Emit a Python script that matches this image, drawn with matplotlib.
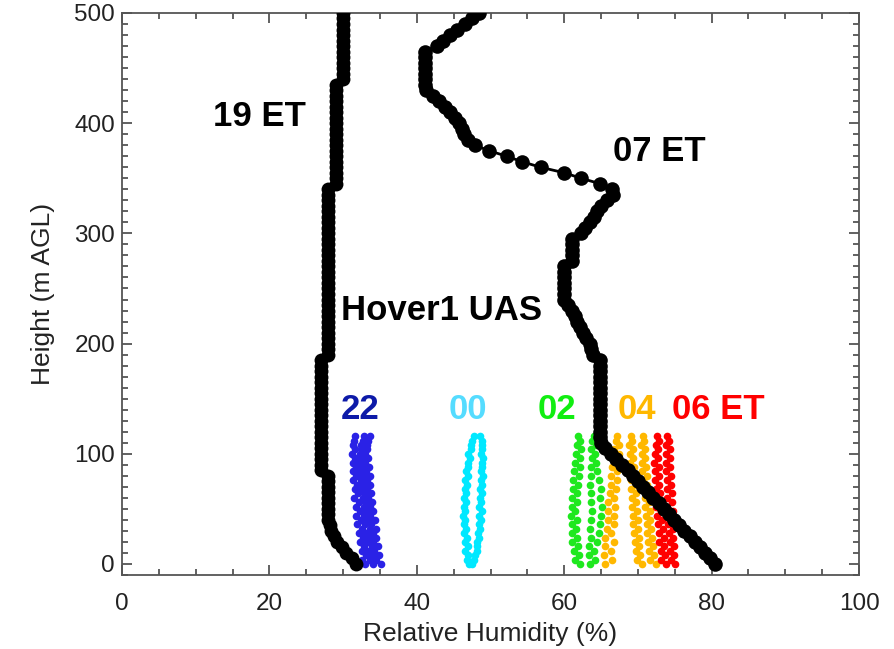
import numpy as np
import matplotlib
matplotlib.use("Agg")
import matplotlib.pyplot as plt
from matplotlib.ticker import MultipleLocator

plt.rcParams['font.family'] = ['Liberation Sans', 'DejaVu Sans']

# perfiles de radiosonda (cada 5 m)
altura_sonda = np.arange(0, 501, 5)

hr_19et = [31.8, 31.2, 30.4, 29.8, 29.2, 28.7, 28.4, 28.2, 28.0,
           28.0, 28.0, 28.0, 28.0, 28.0, 28.0, 28.0, 28.0,
           27.0, 27.0, 27.0, 27.0, 27.0, 27.0, 27.0, 27.0, 27.0, 27.0, 27.0,
           27.0, 27.0, 27.0, 27.0, 27.0, 27.0, 27.0, 27.0, 27.0, 27.0,
           28.0, 28.0, 28.0, 28.0, 28.0, 28.0, 28.0, 28.0, 28.0, 28.0, 28.0,
           28.0, 28.0, 28.0, 28.0, 28.0, 28.0, 28.0, 28.0, 28.0, 28.0, 28.0,
           28.0, 28.0, 28.0, 28.0, 28.0, 28.0, 28.0, 28.0, 28.0,
           29.0, 29.0, 29.0, 29.0, 29.0, 29.0, 29.0, 29.0, 29.0, 29.0,
           29.0, 29.0, 29.0, 29.0, 29.0, 29.0, 29.0, 29.0, 29.0,
           30.0, 30.0, 30.0, 30.0, 30.0, 30.0, 30.0, 30.0, 30.0, 30.0,
           30.0, 30.0, 30.0]

hr_07et = [80.5, 79.8, 79.1, 78.4, 77.7, 77.0, 76.3, 75.6, 74.9, 74.2,
           73.5, 72.8, 72.1, 71.4, 70.7, 70.0, 69.3, 68.6, 67.9, 67.0,
           66.3, 65.6, 65.0, 64.8,
           64.8, 64.8, 64.8, 64.8, 64.8, 64.8, 64.8, 64.8, 64.8, 64.8,
           64.8, 64.8, 64.8, 64.8,
           63.9, 63.7, 63.5, 63.0, 62.6, 62.2, 61.8, 61.5, 61.0, 60.5,
           60.0, 60.0, 60.0, 60.0, 60.0, 60.0, 60.0,
           61.1, 61.1, 61.1, 61.1, 61.1,
           62.3, 62.8, 63.5, 64.0, 64.5, 65.0, 65.8, 66.6, 66.5,
           64.9, 62.3, 60.0, 56.8, 54.3, 52.2, 49.8, 47.9, 47.0, 46.4,
           46.1, 45.7, 45.2, 44.5, 43.8, 43.0, 42.2, 41.2,
           41.1, 41.1, 41.1, 41.1, 41.1, 41.1, 41.1,
           42.7, 43.6, 44.5, 45.5, 46.5, 47.5, 48.4]

# vuelos Hover1 UAS (cada 4 m, subida y bajada)
altura_uas = np.arange(0, 118, 4)

hr_22a = [33.0, 32.6, 33.1, 32.5, 32.9, 32.3, 32.7, 32.2, 32.6, 31.9,
          32.4, 31.8, 32.3, 31.7, 32.2, 31.5, 32.0, 31.6, 31.9, 31.4,
          31.8, 31.3, 31.7, 31.4, 31.6, 31.2, 31.6, 31.3, 31.5, 31.6]
hr_22b = [34.1, 33.6, 34.0, 33.4, 33.9, 33.3, 33.7, 33.1, 33.6, 33.0,
          33.4, 32.9, 33.3, 32.8, 33.1, 32.7, 33.0, 32.5, 32.9, 32.4,
          32.7, 32.3, 32.6, 32.2, 32.5, 32.3, 32.6, 32.4, 32.7, 32.8]
hr_22c = [35.1, 34.5, 34.9, 34.2, 34.8, 34.1, 34.5, 34.0, 34.4, 33.8,
          34.3, 33.7, 34.1, 33.6, 33.9, 33.4, 33.8, 33.3, 33.7, 33.2,
          33.6, 33.1, 33.5, 33.0, 33.4, 33.0, 33.3, 33.2, 33.4, 33.6]

hr_00a = [47.1, 46.8, 47.0, 46.6, 46.9, 46.5, 46.8, 46.4, 46.7, 46.4,
          46.6, 46.3, 46.6, 46.4, 46.7, 46.4, 46.7, 46.5, 46.8, 46.6,
          46.9, 46.7, 47.0, 46.9, 47.2, 47.0, 47.3, 47.3, 47.5, 47.7]
hr_00b = [47.5, 47.8, 47.9, 48.1, 48.2, 48.1, 48.5, 48.3, 48.6, 48.4,
          48.7, 48.5, 48.8, 48.5, 48.7, 48.6, 48.9, 48.6, 48.8, 48.7,
          49.0, 48.7, 48.9, 48.8, 49.0, 48.7, 48.9, 48.8, 48.9, 48.6]

hr_02a = [62.2, 61.5, 62.0, 61.3, 61.9, 61.1, 61.7, 61.0, 61.6, 61.1,
          61.8, 60.9, 61.5, 61.0, 61.7, 61.1, 61.8, 61.2, 61.9, 61.2,
          62.0, 61.3, 62.1, 61.5, 62.2, 61.6, 62.3, 61.7, 62.1, 61.9]
hr_02b = [63.5, 64.2, 63.4, 64.1, 63.3, 64.5, 63.6, 64.7, 63.5, 64.9,
          63.7, 65.0, 63.8, 65.1, 63.6, 64.9, 63.7, 65.0, 63.5, 64.7,
          63.7, 64.5, 63.6, 64.3, 63.8, 64.2, 63.7, 64.3, 63.8, 64.1]

hr_04a = [65.6, 66.5, 65.4, 66.3, 65.6, 66.7, 65.5, 66.4, 65.8, 66.8,
          65.9, 66.7, 66.0, 66.9, 66.0, 66.8, 66.2, 67.0, 66.3, 67.1,
          66.4, 67.2, 66.5, 67.3, 66.7, 67.4, 66.8, 67.4, 67.0, 67.2]
hr_04b = [70.5, 69.9, 70.3, 69.7, 70.2, 69.6, 70.1, 69.5, 70.0, 69.4,
          70.0, 69.3, 69.9, 69.2, 69.8, 69.2, 69.7, 69.1, 69.7, 69.0,
          69.6, 69.0, 69.5, 68.9, 69.4, 68.9, 69.3, 68.8, 69.2, 69.1]
hr_04c = [72.4, 71.7, 72.2, 71.5, 72.0, 71.4, 71.9, 71.3, 71.8, 71.2,
          71.7, 71.1, 71.6, 71.0, 71.5, 70.9, 71.4, 70.8, 71.3, 70.7,
          71.2, 70.6, 71.1, 70.5, 71.0, 70.5, 70.9, 70.4, 70.8, 70.7]

hr_06a = [73.8, 73.2, 73.7, 73.1, 73.6, 72.9, 73.5, 72.8, 73.4, 72.7,
          73.3, 72.6, 73.2, 72.5, 73.1, 72.4, 73.0, 72.4, 72.9, 72.3,
          72.8, 72.3, 72.8, 72.2, 72.7, 72.3, 72.7, 72.4, 72.8, 72.6]
hr_06b = [75.1, 74.5, 74.9, 74.4, 74.9, 74.3, 74.8, 74.2, 74.8, 74.1,
          74.7, 74.1, 74.7, 74.0, 74.6, 74.0, 74.6, 73.9, 74.5, 73.9,
          74.5, 73.8, 74.4, 73.8, 74.3, 73.8, 74.3, 73.8, 74.2, 74.0]

vuelos = [
    ([hr_22a, hr_22b, hr_22c], '#2a22e6', '22', '#0d1aa8', 32.3),
    ([hr_00a, hr_00b], '#00e8ff', '00', '#55dcff', 46.9),
    ([hr_02a, hr_02b], '#1ee81e', '02', '#11ee11', 59.0),
    ([hr_04a, hr_04b, hr_04c], '#ffb800', '04', '#ffb800', 69.9),
    ([hr_06a, hr_06b], '#ff0000', '06 ET', '#ff0000', 80.9),
]

fig = plt.figure(figsize=(8.95, 6.49), dpi=100)
ax = fig.add_axes([0.1363, 0.114, 0.8235, 0.866])

for series, color, etiqueta, color_txt, x_txt in vuelos:
    for hr in series:
        ax.plot(hr, altura_uas, 'o', color=color, ms=5.5, mec='none', zorder=2)
    ax.text(x_txt, 140, etiqueta, color=color_txt, fontsize=25,
            fontweight='bold', ha='center', va='center', zorder=4)

ax.plot(hr_19et, altura_sonda, '-o', color='black', ms=10, lw=3,
        mec='none', zorder=3)
ax.plot(hr_07et, altura_sonda, '-o', color='black', ms=10.5, lw=2,
        mec='none', zorder=3)

ax.text(18.7, 406, '19 ET', fontsize=25, fontweight='bold', ha='center',
        va='center')
ax.text(72.9, 374, '07 ET', fontsize=25, fontweight='bold', ha='center',
        va='center')
ax.text(43.4, 230, 'Hover1 UAS', fontsize=25, fontweight='bold',
        ha='center', va='center')

ax.set_xlim(0, 100)
ax.set_ylim(-10, 500)
ax.xaxis.set_major_locator(MultipleLocator(20))
ax.xaxis.set_minor_locator(MultipleLocator(5))
ax.yaxis.set_major_locator(MultipleLocator(100))
ax.yaxis.set_minor_locator(MultipleLocator(10))
ax.tick_params(which='both', direction='in', top=True, right=True,
               color='#555555', width=1.3, labelsize=17.5, labelcolor='#222222')
ax.tick_params(axis='x', which='both', pad=13)
ax.tick_params(axis='y', which='both', pad=5)
ax.tick_params(which='major', length=7)
ax.tick_params(which='minor', length=4)
for lado in ax.spines.values():
    lado.set_color('#555555')
    lado.set_linewidth(1.3)

ax.set_xlabel('Relative Humidity (%)', fontsize=19, color='#222222',
              labelpad=5)
ax.set_ylabel('Height (m AGL)', fontsize=19, color='#222222', labelpad=14)

fig.savefig('out.png', dpi=100)
